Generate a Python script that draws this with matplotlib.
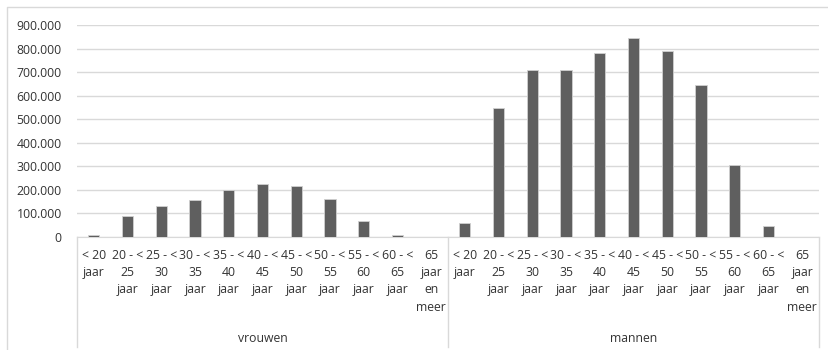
import matplotlib.pyplot as plt
import matplotlib.transforms as mtransforms
from matplotlib.lines import Line2D
import numpy as np

# age groups (Dutch labels, wrapped as in the source chart)
age_labels = ["< 20\njaar", "20 - <\n25\njaar", "25 - <\n30\njaar", "30 - <\n35\njaar",
              "35 - <\n40\njaar", "40 - <\n45\njaar", "45 - <\n50\njaar", "50 - <\n55\njaar",
              "55 - <\n60\njaar", "60 - <\n65\njaar", "65\njaar\nen\nmeer"]
groups = ["vrouwen", "mannen"]
vrouwen = [7000, 88000, 133000, 156000, 198000, 225000, 215000, 163000, 68000, 8500, 1000]
mannen = [61000, 548000, 709000, 709000, 781000, 843000, 788000, 646000, 306000, 47000, 1000]
yticks = [0, 100000, 200000, 300000, 400000, 500000, 600000, 700000, 800000, 900000]

plt.rcParams['font.family'] = ['Open Sans', 'DejaVu Sans']
txt_color = "#333333"

W, H = 829, 350
fig = plt.figure(figsize=(W / 100, H / 100), dpi=100)
ax = fig.add_axes([77 / W, (H - 237) / H, (819 - 77) / W, (237 - 25) / H])

values = vrouwen + mannen
x = np.arange(len(values))
ax.bar(x, values, width=0.33, color="#5f5f5f", edgecolor="#d0d0d0", linewidth=0.6, zorder=3)

ax.set_xlim(-0.5, len(values) - 0.5)
ax.set_ylim(0, 900000)
ax.set_yticks(yticks)
ax.set_yticklabels([f"{v:,}".replace(",", ".") for v in yticks], fontsize=8.8, color=txt_color)
ax.tick_params(axis="y", length=0, pad=11)
ax.set_xticks([])
ax.grid(axis="y", color="#d9d9d9", linewidth=1, zorder=0)
for s in ["top", "right", "left"]:
    ax.spines[s].set_visible(False)
ax.spines["bottom"].set_color("#d9d9d9")

trans = mtransforms.blended_transform_factory(ax.transData, ax.transAxes)
px = 1.0 / (237 - 25)  # one pixel in axes fraction
n = len(age_labels)
for gi, g in enumerate(groups):
    for i, lab in enumerate(age_labels):
        ax.text(gi * n + i, -12 * px, lab, transform=trans, ha="center", va="top",
                fontsize=8.8, color=txt_color, linespacing=1.42)
    ax.text(gi * n + (n - 1) / 2, -101 * px, g, transform=trans, ha="center",
            va="center", fontsize=8.8, color=txt_color)

# category separators below the axis
for xs in [-0.5, n - 0.5, 2 * n - 0.5]:
    ax.add_line(Line2D([xs, xs], [0, -110 * px], transform=trans, color="#d9d9d9",
                       linewidth=1, clip_on=False))

# chart area border
fig.add_artist(Line2D([7 / W, 7 / W, 1], [0, (H - 7) / H, (H - 7) / H],
                      transform=fig.transFigure, color="#d9d9d9", linewidth=1))

fig.savefig("out.png", dpi=100)
